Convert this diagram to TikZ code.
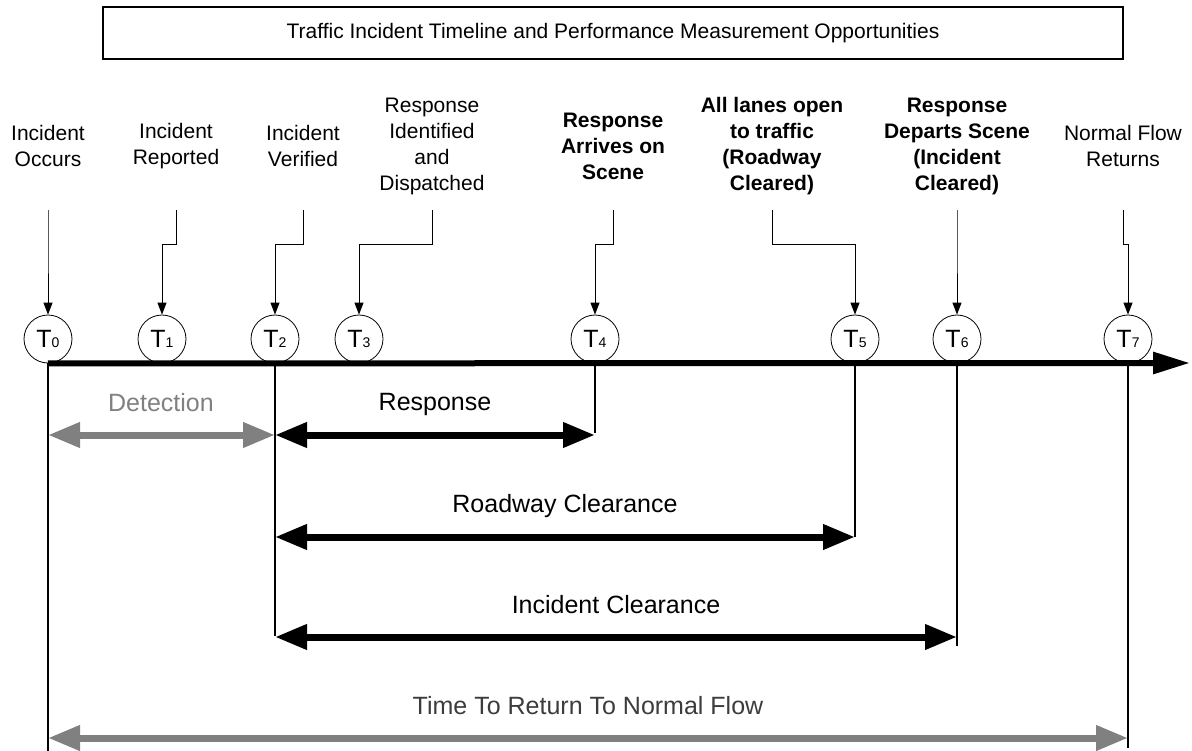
\documentclass[tikz,border=0pt]{standalone}
\usepackage{fontspec}
\setmainfont{Liberation Sans}
\usepackage{tikz}
\usetikzlibrary{arrows.meta}
\definecolor{midgray}{RGB}{128,128,128}
\definecolor{textgray}{RGB}{60,60,60}
\newcommand{\tsub}[1]{{\fontsize{25}{25}\selectfont T}{\fontsize{14}{14}\selectfont #1}}

\begin{document}
\begin{tikzpicture}[x=1pt, y=-1pt,
	tnode/.style={circle, draw, fill=white, minimum size=48pt, inner sep=0pt, line width=0.8pt},
	lbl/.style={align=center, font=\fontsize{21}{26}\selectfont},
	blbl/.style={align=center, font=\fontsize{21}{26}\selectfont\bfseries},
	durlbl/.style={font=\fontsize{25}{29}\selectfont},
	pointer/.style={line width=1pt, -{Triangle[length=12pt,width=9pt]}},
	axis/.style={line width=6pt, -{Triangle[length=37pt,width=21pt]}},
	drop/.style={line width=2pt},
	span/.style={line width=7pt, {Triangle[length=32pt,width=24pt]}-{Triangle[length=32pt,width=24pt]}}]
	\useasboundingbox (0,0) rectangle (1192,751);
	\node[draw, line width=1.2pt, minimum width=1020pt, minimum height=52pt, font=\fontsize{21}{25}\selectfont] (title) at (613,33) {Traffic Incident Timeline and Performance Measurement Opportunities};

	\node[lbl] (l0) at (48,146) {Incident\\Occurs};
	\node[lbl] (l1) at (176,146) {Incident\\Reported};
	\node[lbl] (l2) at (303,146) {Incident\\Verified};
	\node[lbl] (l3) at (432,146) {Response\\Identified\\and\\Dispatched};
	\node[blbl] (l4) at (613,146) {Response\\Arrives on\\Scene};
	\node[blbl] (l5) at (772,146) {All lanes open\\to traffic\\(Roadway\\Cleared)};
	\node[blbl] (l6) at (957,146) {Response\\Departs Scene\\(Incident\\Cleared)};
	\node[lbl] (l7) at (1123,146) {Normal Flow\\Returns};

	\foreach \i/\x in {0/48, 1/162, 2/275, 3/359, 4/595, 5/855, 6/957, 7/1128}
		\node[tnode] (t\i) at (\x,339) {\tsub{\i}};
	\foreach \i/\x in {0/48, 1/176, 2/303, 3/432, 4/613, 5/772, 6/957, 7/1123} {
		\coordinate (s\i) at (\x,210);
		\draw[pointer] (s\i) -- ++(0,35) -| (t\i.north);
	}

	\coordinate (tip) at (1190,363);
	\draw[axis] (t0.south) -- (tip);
	\foreach \i/\y in {0/751, 2/636, 4/433, 5/537, 6/646, 7/748} {
		\coordinate (b\i) at (t\i.south |- 0,\y);
		\draw[drop] (t\i.south) -- (b\i);
	}

	\foreach \n/\a/\b/\y in {det/0/2/435, resp/2/4/435, road/2/5/537, inc/2/6/637, norm/0/7/738} {
		\coordinate (\n a) at (t\a.south |- 0,\y);
		\coordinate (\n b) at (t\b.south |- 0,\y);
	}
	\draw[span, draw=midgray] (deta) -- (detb);
	\draw[span] (respa) -- (respb);
	\draw[span] (roada) -- (roadb);
	\draw[span] (inca) -- (incb);
	\draw[span, draw=midgray] (norma) -- (normb);

	\node[durlbl, text=midgray] (detlbl) at (161,403) {Detection};
	\node[durlbl] (resplbl) at (435,404) {Response};
	\node[durlbl] (roadlbl) at (565,506) {Roadway Clearance};
	\node[durlbl] (inclbl) at (616,605) {Incident Clearance};
	\node[durlbl, text=textgray] (normlbl) at (588,706) {Time To Return To Normal Flow};
\end{tikzpicture}
\end{document}
